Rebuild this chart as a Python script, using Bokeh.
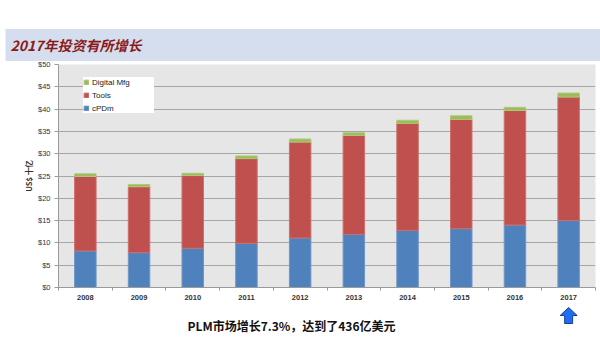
from bokeh.plotting import figure
from bokeh.layouts import column
from bokeh.models import (Range1d, FixedTicker, NumeralTickFormatter, Legend, LegendItem,
                          Title, ColumnDataSource)
from bokeh.core.properties import value
from bokeh.embed import file_html
from bokeh.resources import INLINE

# ---------------- data ----------------
years = ["2008", "2009", "2010", "2011", "2012", "2013", "2014", "2015", "2016", "2017"]
cpdm = [8.2, 7.8, 8.8, 9.9, 11.1, 11.9, 12.8, 13.2, 14.0, 15.0]
tools = [16.7, 14.8, 16.3, 19.0, 21.5, 22.2, 24.0, 24.5, 25.7, 27.7]
digital = [0.6, 0.5, 0.5, 0.6, 0.7, 0.6, 0.7, 0.8, 0.7, 0.9]
series_names = ["cPDm", "Tools", "Digital Mfg"]
series_colors = ["#4f81bd", "#c0504d", "#9bbb59"]
y_ticks = [0, 5, 10, 15, 20, 25, 30, 35, 40, 45, 50]
title_text = "2017年投资有所增长"
y_label = "US$ 十亿"
caption = "PLM市场增长7.3%，达到了436亿美元"
highlight_year = "2017"

FONT = "Liberation Sans"
CJK = "Noto Sans CJK SC"

W = 600
BL, BR, BT, BB = 58, 5, 64, 18          # borders around the chart frame
H1 = 305                                 # chart figure height
H2 = 360 - H1                            # strip below (caption + arrow)
FW = W - BL - BR
YMAX = 50
NCAT = len(years)

x_range = Range1d(0.5, NCAT + 0.5)
p = figure(width=W, height=H1, output_backend="svg", toolbar_location=None,
           x_range=x_range, y_range=Range1d(0, YMAX),
           min_border_left=BL, min_border_right=BR, min_border_top=BT, min_border_bottom=BB,
           background_fill_color="#e6e6e6", border_fill_color="white",
           outline_line_color=None)

# ---------------- title with band ----------------
p.add_layout(Title(text=title_text, align="left", offset=-53, text_font=CJK,
                   text_font_size="14px", text_font_style="bold italic",
                   text_color="#8b1a1a", standoff=7,
                   background_fill_color="#d5deee",
                   padding=dict(left=5, right=460, top=6, bottom=6)), "above")

# ---------------- bars ----------------
xs = list(range(1, NCAT + 1))
src = ColumnDataSource(dict(x=xs, cPDm=cpdm, Tools=tools, Digital=digital))
rs = p.vbar_stack(["cPDm", "Tools", "Digital"], x="x", width=0.4, source=src,
                  color=series_colors, line_color=["#6f95c8", "#cf6f6c", "#b0c97a"],
                  line_width=1)

# ---------------- axes / grid ----------------
p.xgrid.visible = False
p.ygrid.ticker = FixedTicker(ticks=y_ticks)
p.ygrid.grid_line_color = "#a6a6a6"
p.ygrid.grid_line_width = 1

p.yaxis.ticker = FixedTicker(ticks=y_ticks)
p.yaxis.formatter = NumeralTickFormatter(format="$0")
p.yaxis.major_label_text_font = FONT
p.yaxis.major_label_text_font_size = "7.5px"
p.yaxis.major_label_text_color = "#333333"
p.yaxis.axis_line_color = "#9a9a9a"
p.yaxis.major_tick_line_color = "#9a9a9a"
p.yaxis.major_tick_out = 4
p.yaxis.major_tick_in = 0
p.yaxis.minor_tick_line_color = None
p.yaxis.major_label_standoff = 4
p.yaxis.axis_label = y_label
p.yaxis.axis_label_text_font = CJK
p.yaxis.axis_label_text_font_size = "7.5px"
p.yaxis.axis_label_text_font_style = "bold"
p.yaxis.axis_label_text_color = "#333333"
p.yaxis.axis_label_standoff = 1

p.xaxis.ticker = FixedTicker(ticks=xs, minor_ticks=[i + 0.5 for i in range(0, NCAT + 1)])
p.xaxis.major_label_overrides = {x: y for x, y in zip(xs, years)}
p.xaxis.major_label_text_font = FONT
p.xaxis.major_label_text_font_size = "7.5px"
p.xaxis.major_label_text_font_style = "bold"
p.xaxis.major_label_text_color = "#333333"
p.xaxis.axis_line_color = "#9a9a9a"
p.xaxis.major_tick_line_color = None
p.xaxis.major_tick_out = 0
p.xaxis.major_tick_in = 0
p.xaxis.minor_tick_line_color = "#9a9a9a"
p.xaxis.minor_tick_out = 3
p.xaxis.minor_tick_in = 0
p.xaxis.major_label_standoff = 4

# ---------------- legend ----------------
items = [LegendItem(label=series_names[i], renderers=[rs[i]]) for i in (2, 1, 0)]
leg = Legend(items=items, location=(25, 174), background_fill_color="white",
             background_fill_alpha=1.0, border_line_color=None, padding=5,
             glyph_width=6, glyph_height=6, label_standoff=3, label_height=10,
             label_width=62, spacing=3, label_text_font=FONT,
             label_text_font_size="8px", label_text_color="#222222", margin=0)
p.add_layout(leg, "center")

# ---------------- strip below: caption + arrow under the highlighted year ----------------
s = figure(width=W, height=H2, output_backend="svg", toolbar_location=None,
           x_range=x_range, y_range=Range1d(H2, 0),
           x_axis_type=None, y_axis_type=None,
           min_border_left=BL, min_border_right=BR, min_border_top=0, min_border_bottom=0,
           background_fill_color="white", border_fill_color="white",
           outline_line_color=None)
s.grid.visible = False

ppu = FW / NCAT                       # pixels per category
def sx(px):                           # canvas x -> data x
    return 0.5 + (px - BL) / ppu

s.text(x=[sx(291)], y=[20], text=[caption], text_font=value(CJK),
       text_font_size="12px", text_font_style="bold", text_color="#111111",
       text_align="center", text_baseline="middle")

xc = years.index(highlight_year) + 1
tip, base, bottom = 2, 10, 18        # strip pixel rows
hw, sw = 8.5 / ppu, 4.0 / ppu
s.patch(x=[xc, xc + hw, xc + sw, xc + sw, xc - sw, xc - sw, xc - hw],
        y=[tip, base, base, bottom, bottom, base, base],
        fill_color="#1f6cf5", line_color="#1a3f8a", line_width=1)

layout = column(p, s, spacing=0)
open("out.html", "w").write(file_html(layout, INLINE))
